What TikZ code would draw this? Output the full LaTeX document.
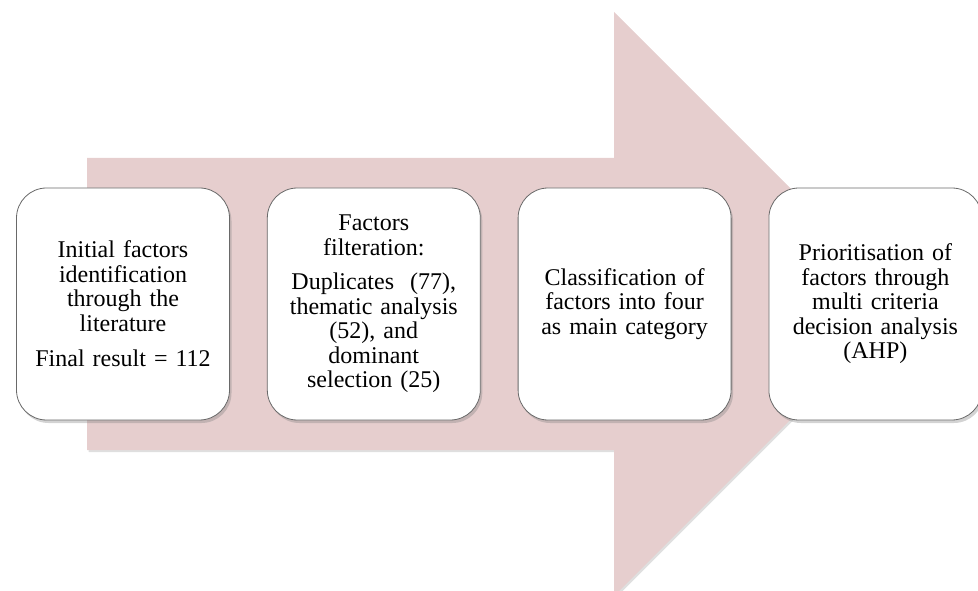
\documentclass[tikz,border=0pt]{standalone}
\usepackage{fontspec}
\setmainfont{Liberation Serif}
\usetikzlibrary{positioning}
\usetikzlibrary{shadows}
\definecolor{arrowpink}{RGB}{230,206,206}
\definecolor{boxline}{RGB}{105,105,105}

\begin{document}
\begin{tikzpicture}[x=1pt,y=1pt, every node/.style={font=\fontsize{24}{24.5}\selectfont}]
    \tikzstyle{stage box}=[draw=boxline, line width=0.8pt, fill=white, rounded corners=30pt,
        minimum width=213pt, minimum height=232pt, text width=205pt, align=center, inner sep=0pt,
        drop shadow={shadow xshift=2pt, shadow yshift=-3pt, opacity=0.35}]
    \tikzstyle{big arrow}=[fill=arrowpink,
        drop shadow={shadow xshift=1.5pt, shadow yshift=-2pt, opacity=0.25}]

    \useasboundingbox (0,0) rectangle (978,590);

    % the arrow behind the stages
    \path[style=big arrow] (87,140) -- (87,432) -- (614,432) -- (614,578)
        -- (906,286) -- (614,-6) -- (614,140) -- cycle;

    % stages, left to right
    \node[stage box] (initial) at (123,286)
        {Initial factors\\identification\\through the\\literature\\[11pt]Final result = 112};
    \node[stage box, right=37pt of initial] (filter)
        {Factors\\filteration:\\[10pt]Duplicates\ \ (77),\\thematic analysis\\(52), and\\dominant\\selection (25)};
    \node[stage box, right=37pt of filter] (classify)
        {Classification of\\factors into four\\as main category};
    \node[stage box, right=37pt of classify] (prioritise)
        {Prioritisation of\\factors through\\multi criteria\\decision analysis\\(AHP)};
\end{tikzpicture}
\end{document}
